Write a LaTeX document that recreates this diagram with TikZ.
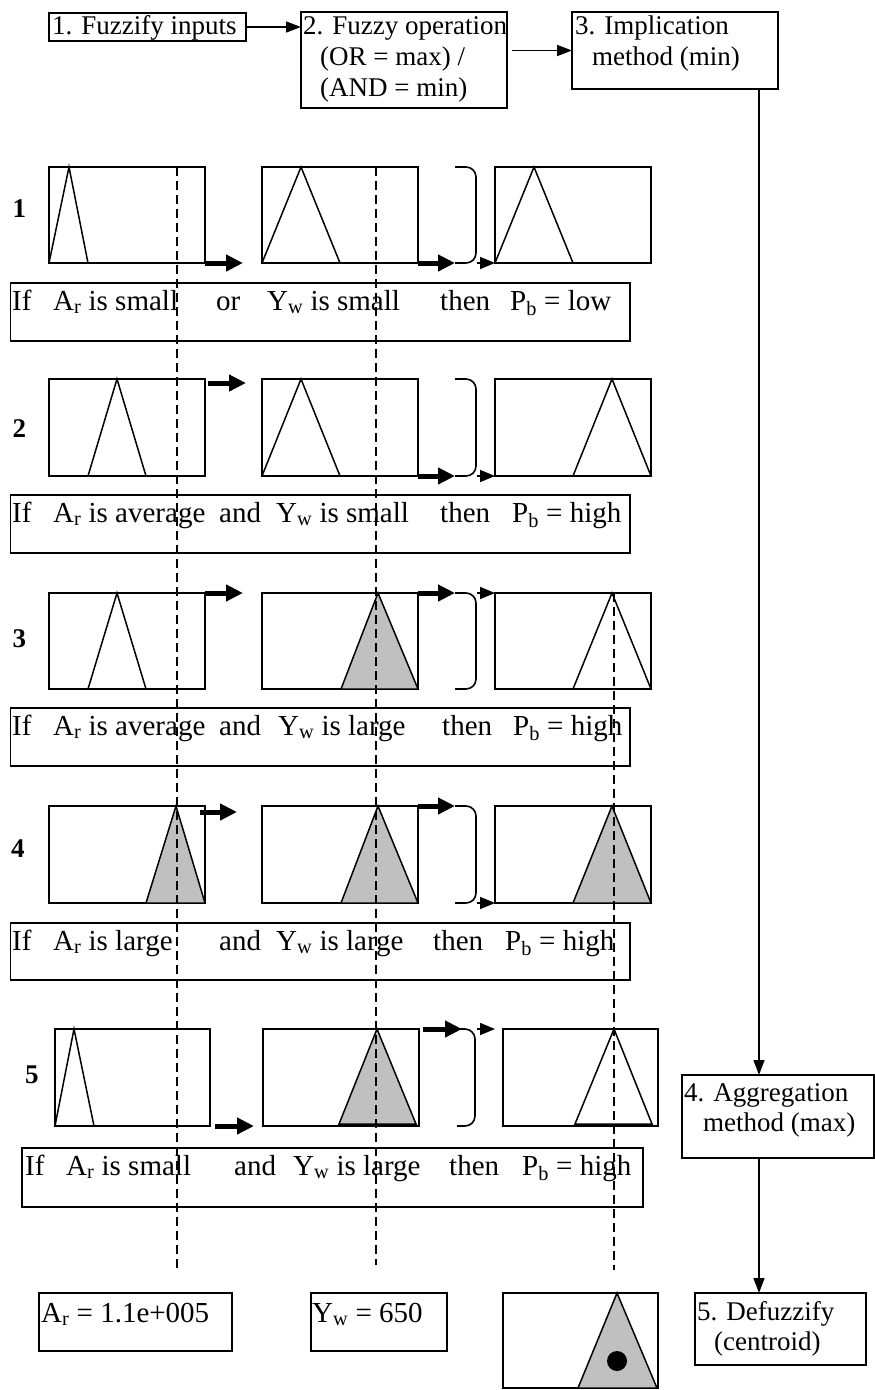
\documentclass[tikz,border=0pt]{standalone}
\usepackage{fontspec}
\setmainfont{Liberation Serif}
\usetikzlibrary{arrows.meta}
\definecolor{mfgray}{RGB}{192,192,192}
\tikzset{
  bx/.style={draw, line width=1.6pt, inner sep=0pt, outer sep=0pt, anchor=north west},
  tri/.style={draw, line width=1.5pt, line join=miter},
  trif/.style={tri, fill=mfgray},
  hd/.style={anchor=base west, inner sep=0pt, font=\fontsize{27}{31}\selectfont},
  rt/.style={anchor=base west, inner sep=0pt, font=\fontsize{29}{33}\selectfont},
  bt/.style={anchor=base west, inner sep=0pt, font=\fontsize{29}{33}\selectfont},
  rowlbl/.style={anchor=base west, inner sep=0pt, font=\fontsize{27}{31}\selectfont\bfseries},
  ar/.style={line width=1.6pt, -{Triangle[length=15pt,width=11pt]}},
  bar/.style={line width=5pt, -{Triangle[length=17pt,width=16pt]}},
  sar/.style={line width=1.6pt, -{Triangle[length=15pt,width=12pt]}},
  dsh/.style={line width=1.5pt, dash pattern=on 9pt off 5pt},
  brk/.style={line width=1.6pt, rounded corners=10pt},
}
% name, x1, y1, x2, y2
\newcommand\bxat[5]{\node[bx, minimum width={(#4)-(#2)}, minimum height={(#5)-(#3)}] (#1) at (#2,#3) {};}
% style, apex x, base left, base right, top, bottom
\newcommand\mftri[6]{\draw[#1] (#2,#5) -- (#3,#6) -- (#4,#6) -- cycle;}
\newcommand\rseg[4]{\node[rt] (#1) at (#2,#3) {#4};}
\begin{document}
\begin{tikzpicture}[x=1pt,y=-1pt]
\useasboundingbox (0,0) rectangle (875,1390);
% ---------- header boxes ----------
\bxat{b1}{49}{13}{246}{41}
\bxat{b2}{301}{12}{507}{108}
\bxat{b3}{572}{12}{778}{89}
\bxat{b4}{682}{1075}{874}{1158}
\bxat{b5}{695}{1293}{866}{1365}
\node[hd] (t1) at (52,34) {1. Fuzzify inputs};
\node[hd] (t2a) at (303,34) {2. Fuzzy operation};
\node[hd] (t2b) at (320,65) {(OR = max) /};
\node[hd] (t2c) at (320,96) {(AND = min)};
\node[hd] (t3a) at (575,34) {3. Implication};
\node[hd] (t3b) at (592,65) {method (min)};
\node[hd] (t4a) at (684,1101) {4. Aggregation};
\node[hd] (t4b) at (703,1131) {method (max)};
\node[hd] (t5a) at (697,1320) {5. Defuzzify};
\node[hd] (t5b) at (714,1350) {(centroid)};
\coordinate (vx) at (759,0);
\draw[ar] (b1.east) -- (b1.east -| b2.west);
\draw[ar] ([xshift=5pt]b3.west -| b2.east) -- (b3.west);
\draw[ar] (b3.south -| vx) -- (b4.north -| vx);
\draw[ar] (b4.south -| vx) -- (b5.north -| vx);
% ---------- membership boxes ----------
\bxat{A1}{49}{167}{205}{263}
\bxat{B1}{262}{167}{418}{263}
\bxat{C1}{495}{167}{651}{263}
\bxat{A2}{49}{379}{205}{476}
\bxat{B2}{262}{379}{418}{476}
\bxat{C2}{495}{379}{651}{476}
\bxat{A3}{49}{593}{205}{689}
\bxat{B3}{262}{593}{418}{689}
\bxat{C3}{495}{593}{651}{689}
\bxat{A4}{49}{806}{205}{903}
\bxat{B4}{262}{806}{418}{903}
\bxat{C4}{495}{806}{651}{903}
\bxat{A5}{55}{1029}{210}{1126}
\bxat{B5}{263}{1029}{419}{1126}
\bxat{C5}{503}{1029}{658}{1126}
% triangles
\mftri{tri}{69}{49}{88}{167}{263}
\mftri{tri}{301}{262}{340}{167}{263}
\mftri{tri}{534}{495}{573}{167}{263}
\mftri{tri}{117}{88}{146}{379}{476}
\mftri{tri}{301}{262}{340}{379}{476}
\mftri{tri}{612}{573}{651}{379}{476}
\mftri{tri}{117}{88}{146}{593}{689}
\mftri{trif}{378}{341}{418}{593}{689}
\mftri{tri}{612}{573}{651}{593}{689}
\mftri{trif}{176}{146}{205}{806}{903}
\mftri{trif}{378}{341}{418}{806}{903}
\mftri{trif}{612}{573}{651}{806}{903}
\mftri{tri}{74}{55}{94}{1029}{1126}
\mftri{trif}{377}{339}{416}{1029}{1124}
\mftri{tri}{614}{575}{652}{1029}{1124}
% row labels
\node[rowlbl] (n1) at (12.5,217) {1};
\node[rowlbl] (n2) at (12.5,437) {2};
\node[rowlbl] (n3) at (12.5,647) {3};
\node[rowlbl] (n4) at (11,857) {4};
\node[rowlbl] (n5) at (25,1083) {5};
% row arrows and brackets
\draw[bar] (A1.south east) -- ++(38,0);
\draw[bar] (B1.south east) -- ++(37,0);
\draw[brk] (455,167) -- (476,167) -- (476,263) -- (455,263);
\draw[sar] ([xshift=-18pt]C1.south west) -- (C1.south west);
\draw[bar] ([shift={(3,4)}]A2.north east) -- ++(38,0);
\draw[bar] (B2.south east) -- ++(37,0);
\draw[brk] (455,379) -- (476,379) -- (476,476) -- (455,476);
\draw[sar] ([xshift=-18pt]C2.south west) -- (C2.south west);
\draw[bar] (A3.north east) -- ++(38,0);
\draw[bar] (B3.north east) -- ++(37,0);
\draw[brk] (455,593) -- (476,593) -- (476,689) -- (455,689);
\draw[sar] ([xshift=-18pt]C3.north west) -- (C3.north west);
\draw[bar] ([shift={(-5,6)}]A4.north east) -- ++(37,0);
\draw[bar] (B4.north east) -- ++(37,0);
\draw[brk] (455,806) -- (476,806) -- (476,903) -- (455,903);
\draw[sar] ([xshift=-18pt]C4.south west) -- (C4.south west);
\draw[bar] ([xshift=5pt]A5.south east) -- ++(39,0);
\draw[bar] ([xshift=4pt]B5.north east) -- ++(39,0);
\draw[brk] (457,1029) -- (475,1029) -- (475,1126) -- (457,1126);
\draw[sar] ([xshift=-26pt]C5.north west) -- ([xshift=-8pt]C5.north west);
% ---------- rule boxes ----------
\bxat{R1}{10.5}{283}{630}{341}
\bxat{R2}{10.5}{495}{630}{553}
\bxat{R3}{10.5}{708}{630}{766}
\bxat{R4}{10.5}{923}{630}{980}
\bxat{R5}{22}{1148}{643}{1207}
\rseg{r1a}{12}{310}{If}
\rseg{r1b}{53}{310}{A\textsubscript{r} is small}
\rseg{r1c}{216}{310}{or}
\rseg{r1d}{267}{310}{Y\textsubscript{w} is small}
\rseg{r1e}{440}{310}{then}
\rseg{r1f}{510}{310}{P\textsubscript{b} = low}
\rseg{r2a}{12}{522}{If}
\rseg{r2b}{53}{522}{A\textsubscript{r} is average}
\rseg{r2c}{219}{522}{and}
\rseg{r2d}{276}{522}{Y\textsubscript{w} is small}
\rseg{r2e}{440}{522}{then}
\rseg{r2f}{512}{522}{P\textsubscript{b} = high}
\rseg{r3a}{12}{735}{If}
\rseg{r3b}{53}{735}{A\textsubscript{r} is average}
\rseg{r3c}{219}{735}{and}
\rseg{r3d}{278}{735}{Y\textsubscript{w} is large}
\rseg{r3e}{442}{735}{then}
\rseg{r3f}{513}{735}{P\textsubscript{b} = high}
\rseg{r4a}{12}{950}{If}
\rseg{r4b}{53}{950}{A\textsubscript{r} is large}
\rseg{r4c}{219}{950}{and}
\rseg{r4d}{276}{950}{Y\textsubscript{w} is large}
\rseg{r4e}{433}{950}{then}
\rseg{r4f}{505}{950}{P\textsubscript{b} = high}
\rseg{r5a}{25}{1175}{If}
\rseg{r5b}{66}{1175}{A\textsubscript{r} is small}
\rseg{r5c}{234}{1175}{and}
\rseg{r5d}{293}{1175}{Y\textsubscript{w} is large}
\rseg{r5e}{449}{1175}{then}
\rseg{r5f}{522}{1175}{P\textsubscript{b} = high}
% ---------- bottom boxes ----------
\bxat{ar}{39}{1293}{232}{1351}
\bxat{yw}{311}{1293}{447}{1351}
\bxat{res}{503}{1293}{658}{1388}
\node[bt] (art) at (41,1322) {A\textsubscript{r} = 1.1e+005};
\node[bt] (ywt) at (312,1322) {Y\textsubscript{w} = 650};
\draw[trif] (617,1293) -- (578,1388) -- (657,1388) -- cycle;
\fill (617,1361) circle (10pt);
% ---------- dashed input/output lines ----------
\draw[dsh] (177,167) -- (177,1270);
\draw[dsh] (376,167) -- (376,1265);
\draw[dsh] (614,593) -- (614,1270);
\end{tikzpicture}
\end{document}
